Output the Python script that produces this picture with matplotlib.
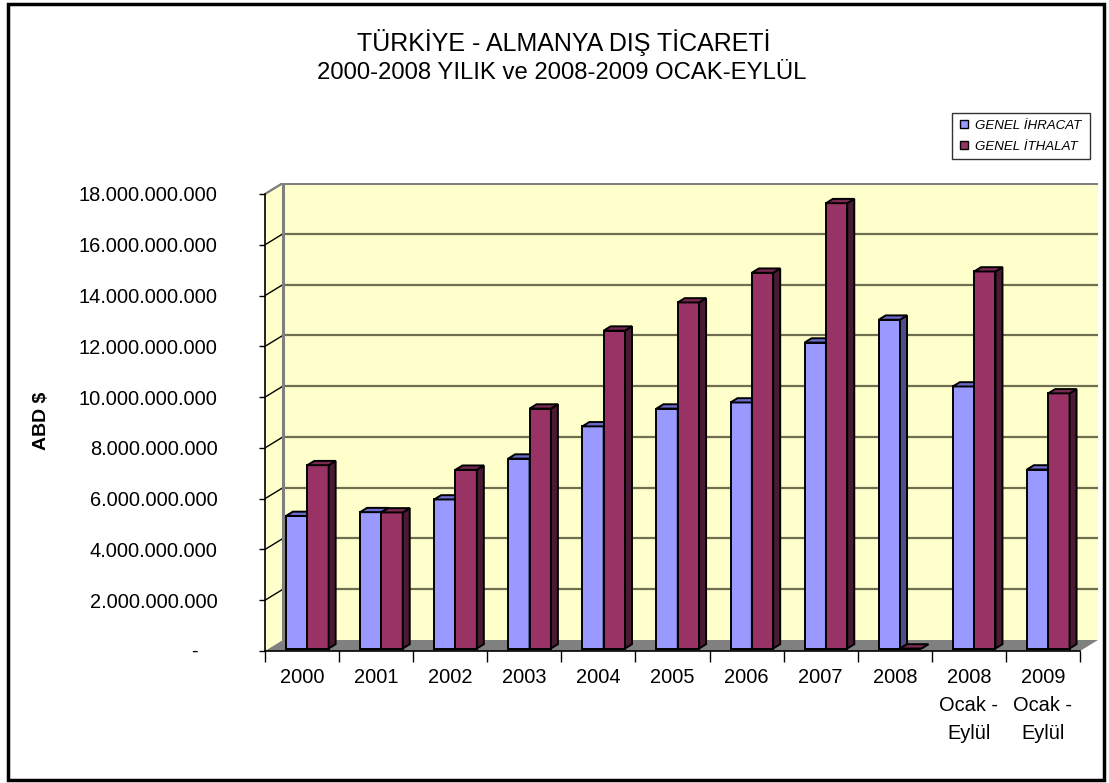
import matplotlib
matplotlib.use("Agg")
import matplotlib.pyplot as plt
from matplotlib.patches import Polygon, Rectangle
from matplotlib.lines import Line2D

plt.rcParams['font.family'] = ['Liberation Sans', 'DejaVu Sans']

# ---------------- data ----------------
categories = ["2000", "2001", "2002", "2003", "2004", "2005", "2006", "2007", "2008",
              "2008\nOcak -\nEylül", "2009\nOcak -\nEylül"]
ihracat = [5.22e9, 5.37e9, 5.87e9, 7.48e9, 8.75e9, 9.45e9, 9.69e9, 12.05e9, 12.95e9, 10.32e9, 7.05e9]
ithalat = [7.22e9, 5.36e9, 7.04e9, 9.45e9, 12.52e9, 13.63e9, 14.80e9, 17.54e9, 0.0, 14.85e9, 10.05e9]
series_names = ["GENEL İHRACAT", "GENEL İTHALAT"]
yticks = [0, 2e9, 4e9, 6e9, 8e9, 10e9, 12e9, 14e9, 16e9, 18e9]
title1 = "TÜRKİYE - ALMANYA DIŞ TİCARETİ"
title2 = "2000-2008 YILIK ve 2008-2009 OCAK-EYLÜL"
ylabel = "ABD $"

# ---------------- style ----------------
W, H = 1109, 783
DPI = 100
fig = plt.figure(figsize=(W / DPI, H / DPI), dpi=DPI)
fig.patch.set_facecolor("white")

ax_l, ax_b, ax_r, ax_t = 265, 651, 1098, 183  # pixel box of plot (incl. depth)
ax = fig.add_axes([ax_l / W, 1 - ax_b / H, (ax_r - ax_l) / W, (ax_b - ax_t) / H])
n = len(categories)
ymax = yticks[-1]
px_per_x = 74.1
px_per_y = 25.39 / 1e9
DX = 18 / px_per_x
DY = 11 / px_per_y
ax.set_xlim(0, n + DX)
ax.set_ylim(0, ymax + DY)
ax.set_facecolor("none")

wall_c = "#FFFFCC"
wall_edge = "#808080"
grid_c = "#6E6E50"
floor_c = "#808080"

# side wall
ax.add_patch(Polygon([(0, 0), (DX, DY), (DX, ymax + DY), (0, ymax)], closed=True,
                     facecolor=wall_c, edgecolor="none", zorder=1))
# back wall
ax.add_patch(Rectangle((DX, DY), n, ymax, facecolor=wall_c, edgecolor="none", zorder=1))
# gridlines
for v in yticks[1:-1]:
    ax.plot([DX, n + DX], [v + DY, v + DY], color=grid_c, lw=1.6, zorder=2)
for v in yticks[1:]:
    ax.plot([0, DX], [v, v + DY], color="black", lw=1.0, zorder=2)
# wall edges
ax.plot([DX, DX, n + DX], [DY, ymax + DY, ymax + DY], color=wall_edge, lw=2.2, zorder=2,
        solid_capstyle="butt")
ax.plot([0, DX], [ymax, ymax + DY], color=wall_edge, lw=1.6, zorder=2)
# floor
ax.add_patch(Polygon([(0, 0), (n, 0), (n + DX, DY), (DX, DY)], closed=True,
                     facecolor=floor_c, edgecolor="none", zorder=3))

# bars
w = 0.288
x_off = 0.283
base = 2.5 / px_per_y
bdx = 7 / px_per_x
bdy = 4.3 / px_per_y
colors = [("#9999FF", "#6B6BCC", "#4D4D8A"), ("#993366", "#7A2952", "#4A1932")]
for i in range(n):
    for s, vals in enumerate([ihracat, ithalat]):
        front, topc, sidec = colors[s]
        x0 = i + x_off + s * w
        x1 = x0 + w
        top = base + vals[i]
        z = 4 + i * 0.01 + s * 0.001
        ax.bar(x0, vals[i], width=w, bottom=base, align="edge", color=front,
               edgecolor="black", linewidth=1.4, zorder=z)
        ax.add_patch(Polygon([(x1, base), (x1 + bdx, base + bdy), (x1 + bdx, top + bdy), (x1, top)],
                             closed=True, facecolor=sidec, edgecolor="black", lw=1.4, zorder=z))
        ax.add_patch(Polygon([(x0, top), (x1, top), (x1 + bdx, top + bdy), (x0 + bdx, top + bdy)],
                             closed=True, facecolor=topc, edgecolor="black", lw=1.4, zorder=z))

# axes spines / ticks
for sp in ["top", "right"]:
    ax.spines[sp].set_visible(False)
ax.spines["left"].set_bounds(0, ymax)
ax.spines["bottom"].set_bounds(0, n)
for sp in ["left", "bottom"]:
    ax.spines[sp].set_color("black")
    ax.spines[sp].set_linewidth(1.2)
    ax.spines[sp].set_zorder(10)

def fmt(v):
    return "" if v == 0 else f"{int(v):,}".replace(",", ".")

ax.set_yticks(yticks)
ax.set_yticklabels([fmt(v) for v in yticks], fontsize=14.4)
ax.tick_params(axis="y", direction="out", length=4, width=1, pad=30)
ax.text(-71 / px_per_x, 0, "-", ha="center", va="center", fontsize=14.4)

ax.set_xticks(range(n + 1))
ax.set_xticklabels([])
ax.set_xticks([i + 0.5 for i in range(n)], minor=True)
ax.set_xticklabels(categories, minor=True, fontsize=14.4, linespacing=1.6, va="top")
ax.tick_params(axis="x", which="major", direction="out", length=8, width=1)
ax.tick_params(axis="x", which="minor", length=0, pad=12)

# y label
fig.text(42 / W, 1 - 421 / H, ylabel, rotation=90, ha="center", va="center",
         fontsize=14, fontweight="bold")

# titles
fig.text(564 / W, 1 - 42 / H, title1, ha="center", va="center", fontsize=18)
fig.text(562 / W, 1 - 73 / H, title2, ha="center", va="center", fontsize=17.2)

# legend
handles = [Line2D([], [], linestyle="none", marker="s", markersize=6,
                  markerfacecolor=colors[k][0], markeredgecolor="black", markeredgewidth=1)
           for k in range(2)]
leg = fig.legend(handles, series_names, loc="upper left",
                 bbox_to_anchor=(952 / W, 1 - 157 / H, 138 / W, 44 / H), mode="expand",
                 frameon=True, fancybox=False,
                 prop={"style": "italic", "size": 9.6}, handlelength=0.8,
                 handletextpad=0.4, borderpad=0.5, labelspacing=0.62, borderaxespad=0)
leg.get_frame().set_edgecolor("black")
leg.get_frame().set_linewidth(1)

# outer border
fig.add_artist(Rectangle((8 / W, 3 / H), (1104 - 8) / W, (779 - 3) / H, transform=fig.transFigure,
                         fill=False, edgecolor="black", linewidth=2.5))

fig.savefig("out.png", dpi=DPI, facecolor="white")
